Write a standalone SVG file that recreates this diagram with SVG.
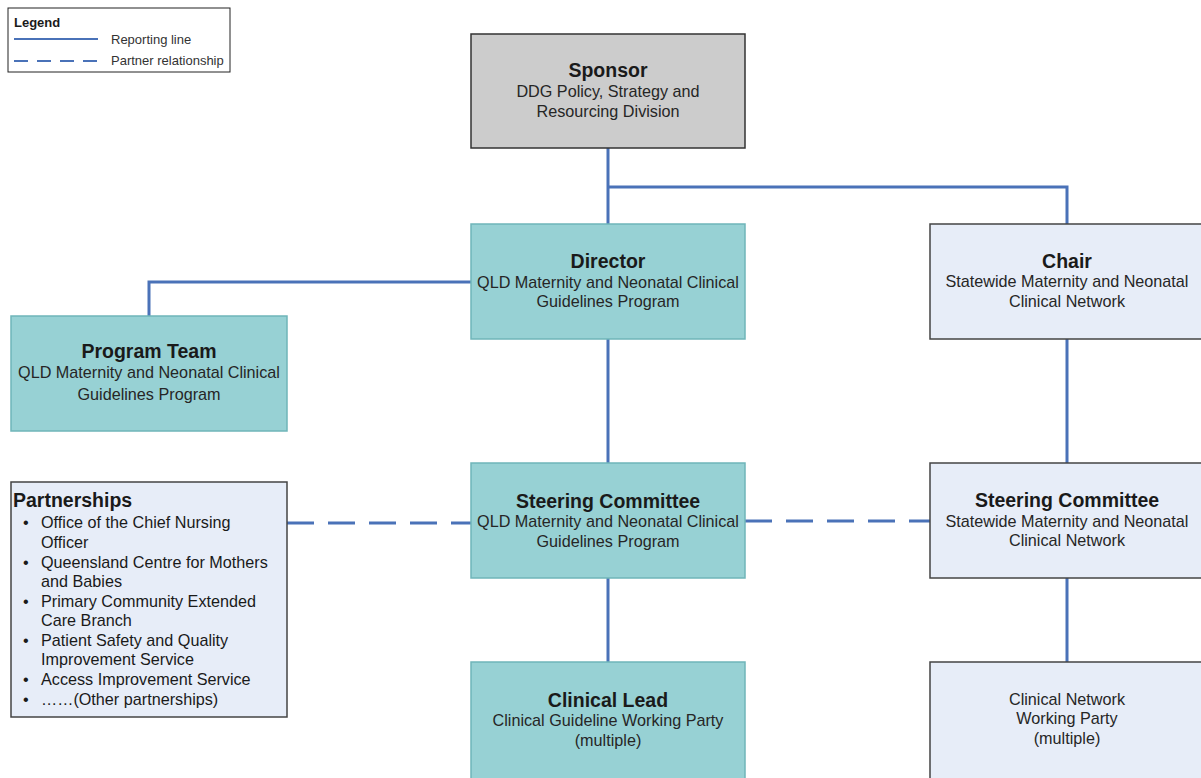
<svg xmlns="http://www.w3.org/2000/svg" width="1201" height="778" viewBox="0 0 1201 778">
<style>
text{font-family:"Liberation Sans",Arial,sans-serif;fill:#1a1a1a}
.t{font-size:19.5px;font-weight:bold;text-anchor:middle}
.s{font-size:16.2px;text-anchor:middle;fill:#262626}
.l{font-size:16.2px;fill:#262626}
.teal{fill:#97d1d4;stroke:#6fb5b9;stroke-width:1.5}
.grey{fill:#cccccc;stroke:#333;stroke-width:1.5}
.pale{fill:#e7edf8;stroke:#444;stroke-width:1.5}
.ln{stroke:#4a72b8;stroke-width:3;fill:none}
.dash{stroke:#4a72b8;stroke-width:3;fill:none;stroke-dasharray:27 14}
</style>
<rect width="1201" height="778" fill="#fff"/>
<g id="legend">
<rect x="8" y="8" width="222" height="64" fill="#fff" stroke="#222" stroke-width="1"/>
<text x="14" y="27" style="font-size:13px;font-weight:bold">Legend</text>
<line x1="14" y1="39" x2="98" y2="39" stroke="#4a72b8" stroke-width="2"/>
<line x1="14" y1="61" x2="98" y2="61" stroke="#4a72b8" stroke-width="2" stroke-dasharray="14 9"/>
<text x="111" y="44" style="font-size:13px;fill:#333">Reporting line</text>
<text x="111" y="65" style="font-size:13px;fill:#333">Partner relationship</text>
</g>
<g id="connectors">
<path class="ln" d="M608 148V224M608 187H1067V224M149 316V282H471M608 339V463M608 578V662M1067 339V463M1067 578V662"/>
<path class="dash" d="M287 523H471"/>
<path class="dash" d="M745 521H930"/>
</g>
<g id="sponsor">
<rect class="grey" x="471" y="34" width="274" height="114"/>
<text class="t" x="608" y="77">Sponsor</text>
<text class="s" x="608" y="97">DDG Policy, Strategy and</text>
<text class="s" x="608" y="117">Resourcing Division</text>
</g>
<g id="director">
<rect class="teal" x="471" y="224" width="274" height="115"/>
<text class="t" x="608" y="268">Director</text>
<text class="s" x="608" y="288">QLD Maternity and Neonatal Clinical</text>
<text class="s" x="608" y="307">Guidelines Program</text>
</g>
<g id="chair">
<rect class="pale" x="930" y="224" width="274" height="115"/>
<text class="t" x="1067" y="268">Chair</text>
<text class="s" x="1067" y="287">Statewide Maternity and Neonatal</text>
<text class="s" x="1067" y="307">Clinical Network</text>
</g>
<g id="program-team">
<rect class="teal" x="11" y="316" width="276" height="115"/>
<text class="t" x="149" y="358">Program Team</text>
<text class="s" x="149" y="378">QLD Maternity and Neonatal Clinical</text>
<text class="s" x="149" y="400">Guidelines Program</text>
</g>
<g id="partnerships">
<rect class="pale" x="11" y="482" width="276" height="235"/>
<text x="13" y="507" style="font-size:19.5px;font-weight:bold">Partnerships</text>
<g class="l">
<text x="23" y="528">•</text><text x="41" y="528">Office of the Chief Nursing</text>
<text x="41" y="548">Officer</text>
<text x="23" y="568">•</text><text x="41" y="568">Queensland Centre for Mothers</text>
<text x="41" y="587">and Babies</text>
<text x="23" y="607">•</text><text x="41" y="607">Primary Community Extended</text>
<text x="41" y="626">Care Branch</text>
<text x="23" y="646">•</text><text x="41" y="646">Patient Safety and Quality</text>
<text x="41" y="665">Improvement Service</text>
<text x="23" y="685">•</text><text x="41" y="685">Access Improvement Service</text>
<text x="23" y="705">•</text><text x="41" y="705">……(Other partnerships)</text>
</g>
</g>
<g id="steering-program">
<rect class="teal" x="471" y="463" width="274" height="115"/>
<text class="t" x="608" y="508">Steering Committee</text>
<text class="s" x="608" y="527">QLD Maternity and Neonatal Clinical</text>
<text class="s" x="608" y="547">Guidelines Program</text>
</g>
<g id="steering-network">
<rect class="pale" x="930" y="463" width="274" height="115"/>
<text class="t" x="1067" y="507">Steering Committee</text>
<text class="s" x="1067" y="527">Statewide Maternity and Neonatal</text>
<text class="s" x="1067" y="546">Clinical Network</text>
</g>
<g id="clinical-lead">
<rect class="teal" x="471" y="662" width="274" height="118"/>
<text class="t" x="608" y="707">Clinical Lead</text>
<text class="s" x="608" y="726">Clinical Guideline Working Party</text>
<text class="s" x="608" y="746">(multiple)</text>
</g>
<g id="clinical-network">
<rect class="pale" x="930" y="662" width="274" height="118"/>
<text class="s" x="1067" y="705">Clinical Network</text>
<text class="s" x="1067" y="724">Working Party</text>
<text class="s" x="1067" y="744">(multiple)</text>
</g>
</svg>
